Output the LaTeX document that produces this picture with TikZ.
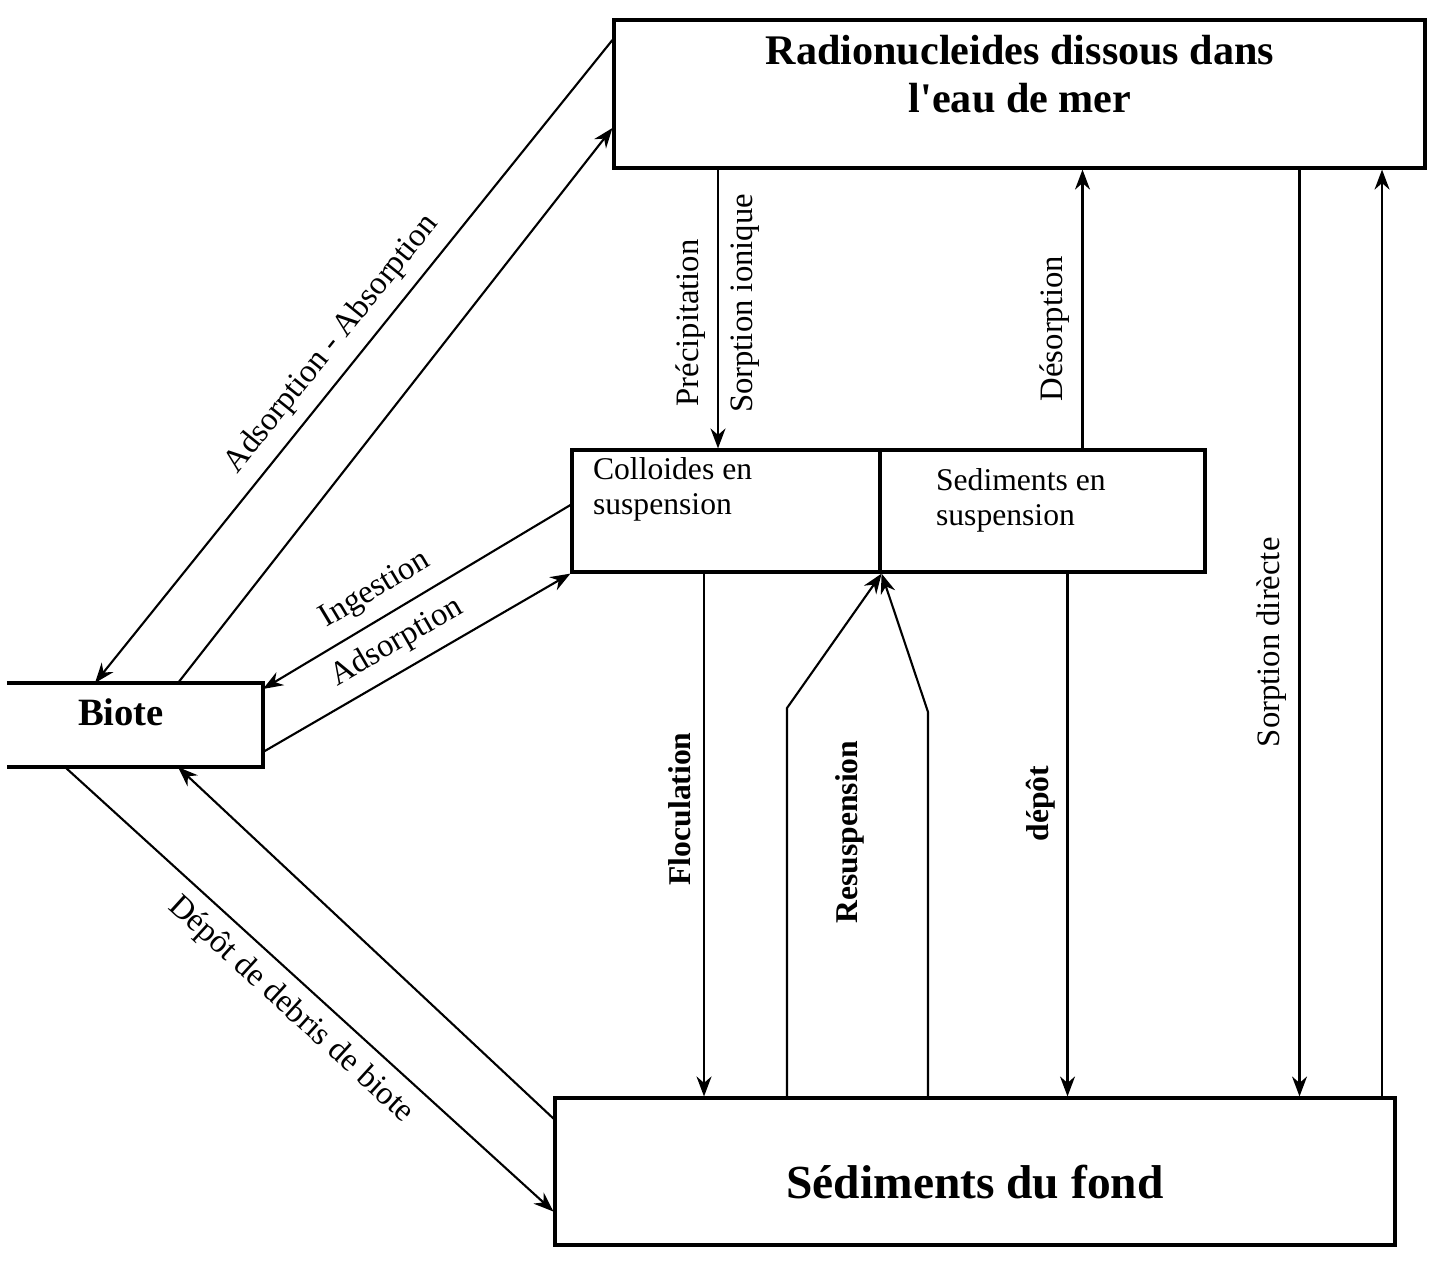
\documentclass[tikz,border=0pt]{standalone}
\usepackage{fontspec}
\setmainfont{Liberation Serif}
\usetikzlibrary{arrows.meta,calc}

\begin{document}
\begin{tikzpicture}[>={Stealth[length=2mm,width=1.5mm]},semithick,
    box/.style={draw,line width=0.9pt,inner sep=0pt},
    lab/.style={font=\fontsize{9.3}{11}\selectfont},
    blab/.style={font=\fontsize{9}{11}\selectfont\bfseries},
    vlabL/.style={rotate=90,anchor=south},
    vlabR/.style={rotate=90,anchor=north}]
  \useasboundingbox (0,0) rectangle (14.33,-12.61);
  % boxes
  \node[box,minimum width=8.11cm,minimum height=1.48cm] (eau) at (10.195,-0.94) {};
  \node[align=center,font=\fontsize{12}{13.6}\selectfont\bfseries] (eautxt) at (10.2,-0.74) {Radionucleides dissous dans\\l\textquotesingle eau de mer};
  \node[box,minimum width=3.08cm,minimum height=1.22cm] (col) at (7.26,-5.11) {};
  \node[box,minimum width=3.25cm,minimum height=1.22cm] (sed) at (10.425,-5.11) {};
  \node[anchor=north west,align=left,inner sep=0pt,font=\fontsize{9}{10.2}\selectfont] (coltxt) at (5.92,-4.56) {Colloides en\\suspension};
  \node[anchor=north west,align=left,inner sep=0pt,font=\fontsize{9}{10.2}\selectfont] (sedtxt) at (9.35,-4.67) {Sediments en\\suspension};
  \node[box,minimum width=8.40cm,minimum height=1.47cm] (fond) at (9.75,-11.715) {};
  \node[font=\fontsize{13.5}{15}\selectfont\bfseries] (fondtxt) at (9.75,-11.82) {Sédiments du fond};
  \node[minimum width=2.54cm,minimum height=0.82cm,inner sep=0pt] (biote) at (1.35,-7.25) {};
  \draw[line width=0.9pt] (biote.north west) -- (biote.north east) -- (biote.south east) -- (biote.south west);
  \node[font=\fontsize{11}{13}\selectfont\bfseries] (biotetxt) at (1.21,-7.12) {Biote};
  % biote exchanges
  \draw[->] ([yshift=0.54cm]eau.west) -- node[lab,sloped,above,pos=0.5] {Adsorption - Absorption} ([xshift=-0.4cm]biote.north);
  \draw[->] ([xshift=0.43cm]biote.north) -- ([yshift=-0.34cm]eau.west);
  \draw[->] ([yshift=0.06cm]col.west) -- node[lab,sloped,above,pos=0.59] {Ingestion} ([yshift=-0.06cm]biote.north east);
  \draw[->] ([yshift=-0.27cm]biote.east) -- node[lab,sloped,above,pos=0.48] {Adsorption} (col.south west);
  \draw[->] ([xshift=-0.7cm]biote.south) -- node[lab,sloped,below,pos=0.5] {Dépôt de debris de biote} ([yshift=-0.4cm]fond.west);
  \draw[->] ([yshift=0.53cm]fond.west) -- ([xshift=0.43cm]biote.south);
  % water column
  \draw[->] ([xshift=-0.08cm]col.north |- eau.south) -- node[lab,vlabL,pos=0.55] {Précipitation} node[lab,vlabR,pos=0.48] {Sorption ionique} ([xshift=-0.08cm]col.north);
  \draw[->] ([xshift=0.4cm]sed.north) -- node[lab,vlabL,pos=0.43] {Désorption} ([xshift=0.4cm]sed.north |- eau.south);
  \draw[->] ([xshift=-0.22cm]col.south) -- node[blab,vlabL,pos=0.45] {Floculation} ([xshift=-0.22cm]col.south |- fond.north);
  \coordinate (rsl) at (7.87,-7.08);
  \coordinate (rsr) at (9.28,-7.12);
  \draw[->] ([xshift=-1.88cm]fond.north) -- (rsl) -- (col.south east);
  \draw[->] ([xshift=-0.47cm]fond.north) -- (rsr) -- (col.south east);
  \node[blab,rotate=90] (resus) at (8.50,-8.32) {Resuspension};
  \draw[->] ([xshift=0.25cm]sed.south) -- node[blab,vlabL,pos=0.44] {dépôt} ([xshift=0.25cm]sed.south |- fond.north);
  \draw[->] ([xshift=2.8cm]eau.south) -- node[lab,vlabL,pos=0.51] {Sorption dirècte} ([xshift=2.8cm]eau.south |- fond.north);
  \draw[->] ([xshift=4.07cm]fond.north) -- ([xshift=4.07cm]fond.north |- eau.south);
\end{tikzpicture}
\end{document}
